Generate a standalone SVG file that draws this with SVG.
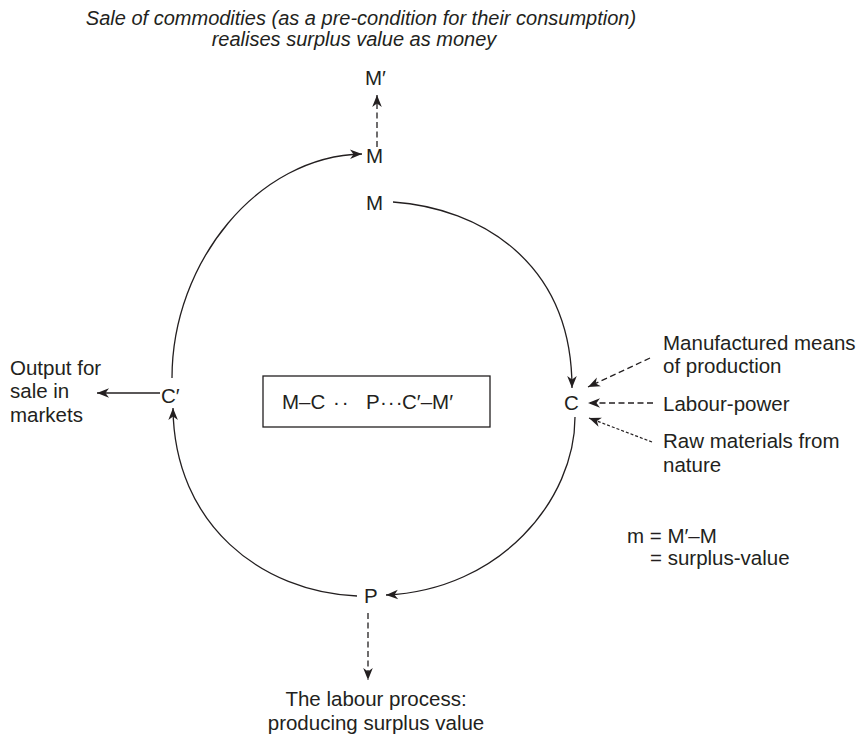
<svg xmlns="http://www.w3.org/2000/svg" width="864" height="736" viewBox="0 0 864 736">
  <style>
    text { font-family: "Liberation Sans", Arial, sans-serif; font-size: 20.5px; fill: #231f20; }
    .title { font-size: 20px; font-style: italic; text-anchor: middle; }
    .flow { fill: none; stroke: #231f20; stroke-width: 1.3; }
    .dash { fill: none; stroke: #231f20; stroke-width: 1.3; stroke-dasharray: 6 3.5; }
    .dot { fill: none; stroke: #231f20; stroke-width: 1.2; stroke-dasharray: 3 2; }
    .box { fill: none; stroke: #231f20; stroke-width: 1.3; }
  </style>
  <defs>
    <marker id="arrow" viewBox="-13 -6 14 12" refX="0" refY="0" markerWidth="14" markerHeight="12" markerUnits="userSpaceOnUse" orient="auto">
      <path d="M0,0 L-12,-4.8 L-8.5,0 L-12,4.8 Z" fill="#231f20"/>
    </marker>
  </defs>

  <!-- heading -->
  <g id="heading">
    <text class="title" x="361" y="25">Sale of commodities (as a pre-condition for their consumption)</text>
    <text class="title" x="354" y="46">realises surplus value as money</text>
  </g>

  <!-- circuit connectors -->
  <g id="connectors">
    <path class="flow" d="M172,378 C172,262 258,156 362,154" marker-end="url(#arrow)"/>
    <path class="flow" d="M393,202 C480,208 572,262 572,388" marker-end="url(#arrow)"/>
    <path class="flow" d="M575,417 C575,500 500,590 386,595" marker-end="url(#arrow)"/>
    <path class="flow" d="M357,596 C262,592 174,525 173,408" marker-end="url(#arrow)"/>
    <path class="flow" d="M160,393 L97,393" marker-end="url(#arrow)"/>
    <path class="dash" d="M377,147 L377,95" marker-end="url(#arrow)"/>
    <path class="dash" d="M368,613 L368,680" marker-end="url(#arrow)"/>
    <path class="dash" d="M650,358 L588,387" marker-end="url(#arrow)"/>
    <path class="dash" d="M653,403 L588,403" marker-end="url(#arrow)"/>
    <path class="dot" d="M652,442 L589,418" marker-end="url(#arrow)"/>
  </g>

  <!-- nodes -->
  <g id="node-m-prime">
    <text x="365" y="85">M′</text>
  </g>
  <g id="node-m-return">
    <text x="366" y="163">M</text>
  </g>
  <g id="node-m-start">
    <text x="366" y="210">M</text>
  </g>
  <g id="node-c">
    <text x="564" y="410">C</text>
  </g>
  <g id="node-p">
    <text x="364" y="603">P</text>
  </g>
  <g id="node-c-prime">
    <text x="161" y="403">C′</text>
  </g>

  <g id="node-formula">
    <rect class="box" x="263" y="376" width="227" height="51"/>
    <text y="409"><tspan x="282">M–C</tspan><tspan x="333" letter-spacing="2">··</tspan><tspan x="366">P</tspan><tspan x="380" letter-spacing="1">···</tspan><tspan x="402">C′–M′</tspan></text>
  </g>

  <g id="label-output">
    <text x="10" y="375">Output for</text>
    <text x="10" y="398">sale in</text>
    <text x="10" y="422">markets</text>
  </g>

  <g id="label-means">
    <text x="663" y="350">Manufactured means</text>
    <text x="663" y="373">of production</text>
  </g>
  <g id="label-labour">
    <text x="663" y="411">Labour-power</text>
  </g>
  <g id="label-raw">
    <text x="663" y="448">Raw materials from</text>
    <text x="663" y="472">nature</text>
  </g>

  <g id="label-surplus">
    <text x="627" y="543">m = M′–M</text>
    <text x="650" y="565">= surplus-value</text>
  </g>

  <g id="label-process">
    <text x="376" y="706" text-anchor="middle">The labour process:</text>
    <text x="376" y="730" text-anchor="middle">producing surplus value</text>
  </g>
</svg>
